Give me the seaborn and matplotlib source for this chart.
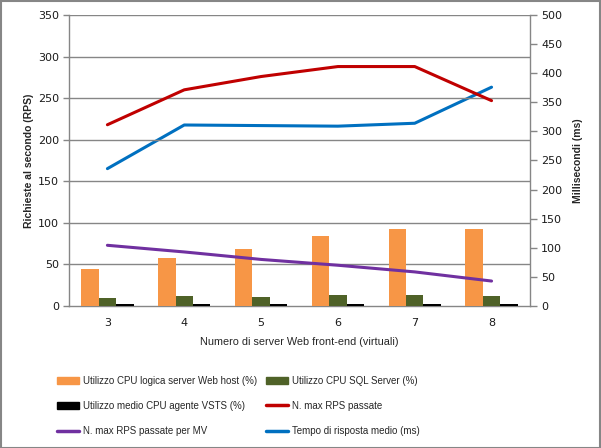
import numpy as np
import pandas as pd
import seaborn as sns
import matplotlib.pyplot as plt
from matplotlib.patches import Patch, Rectangle
from matplotlib.lines import Line2D

# dati
servers = ['3', '4', '5', '6', '7', '8']
cpu_web = [45, 58, 69, 84, 93, 93]
cpu_sql = [10, 12, 11, 13, 13, 12]
cpu_vsts = [2, 2, 2, 2, 2, 2]
rps_max = [218, 260, 276, 288, 288, 247]
rps_per_vm = [73, 65, 56, 49, 41, 30]
resp_ms = [236, 311, 310, 309, 314, 376]

bar_names = ['Utilizzo CPU logica server Web host (%)', 'Utilizzo CPU SQL Server (%)',
             'Utilizzo medio CPU agente VSTS (%)']
bar_colors = ['#F79646', '#4F6228', '#000000']

bars = pd.DataFrame({'server': servers * 3,
                     'serie': np.repeat(bar_names, len(servers)),
                     'valore': cpu_web + cpu_sql + cpu_vsts})

sns.set_style('white')
plt.rcParams['font.family'] = ['Liberation Sans', 'DejaVu Sans']

fig = plt.figure(figsize=(6.01, 4.48), dpi=100)
ax = fig.add_axes([0.1148, 0.317, 0.767, 0.6495])
ax2 = ax.twinx()
ax.set_zorder(ax2.get_zorder() + 1)
ax.patch.set_visible(False)

grey = '#868686'
for y in range(50, 351, 50):
    ax.axhline(y, color=grey, lw=1, zorder=0)

sns.barplot(data=bars, x='server', y='valore', hue='serie', order=servers,
            palette=bar_colors, width=0.68, saturation=1, legend=False, ax=ax,
            zorder=2, linewidth=0)

xpos = np.arange(len(servers))
sns.lineplot(x=xpos, y=rps_max, color='#C00000', lw=2.2, ax=ax, zorder=3)
sns.lineplot(x=xpos, y=rps_per_vm, color='#7030A0', lw=2.2, ax=ax, zorder=3)
sns.lineplot(x=xpos, y=resp_ms, color='#0070C0', lw=2.2, ax=ax2, zorder=3)

ax.set_xlim(-0.5, len(servers) - 0.5)
ax.set_ylim(0, 350)
ax2.set_ylim(0, 500)
ax.set_yticks(range(0, 351, 50))
ax2.set_yticks(range(0, 501, 50))
ax.set_xticks(xpos)
ax.set_xticklabels(servers)
ax.set_xticks(np.arange(-0.5, len(servers), 1), minor=True)

for lab in ax.get_xticklabels() + ax.get_yticklabels() + ax2.get_yticklabels():
    lab.set_fontfamily('DejaVu Sans')
    lab.set_fontsize(8)
    lab.set_color('#1a1a1a')

ax.tick_params(axis='x', which='major', length=0, pad=9)
ax.tick_params(axis='x', which='minor', length=5, color=grey, width=1, direction='out')
ax.tick_params(axis='y', length=4, color=grey, width=1, direction='out', left=True, pad=3)
ax2.tick_params(axis='y', length=5, color=grey, width=1, direction='out', right=True, pad=3)

for a in (ax, ax2):
    a.spines['top'].set_visible(False)
    for s in ('left', 'right', 'bottom'):
        a.spines[s].set_color(grey)
        a.spines[s].set_linewidth(1)
        a.spines[s].set_zorder(1)
ax.spines['right'].set_visible(False)
ax2.spines['left'].set_visible(False)
ax2.spines['bottom'].set_visible(False)

ax.set_xlabel('Numero di server Web front-end (virtuali)', fontsize=7.8, labelpad=6)
ax.set_ylabel('Richieste al secondo (RPS)', fontsize=7.5, fontweight='bold', labelpad=3)
ax2.set_ylabel('Millisecondi (ms)', fontsize=7.5, fontweight='bold', labelpad=8)

# legenda (ordine per righe come nell'originale)
h = [Patch(color=bar_colors[0]), Patch(color=bar_colors[2]),
     Line2D([], [], color='#7030A0', lw=2.5),
     Patch(color=bar_colors[1]),
     Line2D([], [], color='#C00000', lw=2.5),
     Line2D([], [], color='#0070C0', lw=2.5)]
l = [bar_names[0], bar_names[2], 'N. max RPS passate per MV',
     bar_names[1], 'N. max RPS passate', 'Tempo di risposta medio (ms)']
fig.legend(h, l, ncol=2, loc='upper left', bbox_to_anchor=(0.0948, 0.161), frameon=False,
           fontsize=7, handlelength=2.3, handleheight=0.75, handletextpad=0.4,
           columnspacing=0.9, labelspacing=1.55, borderpad=0, borderaxespad=0)

fig.patches.append(Rectangle((0.001, 0.001), 0.997, 0.997, transform=fig.transFigure,
                             fill=False, edgecolor=grey, lw=1.5))

fig.savefig('out.png', dpi=100)
